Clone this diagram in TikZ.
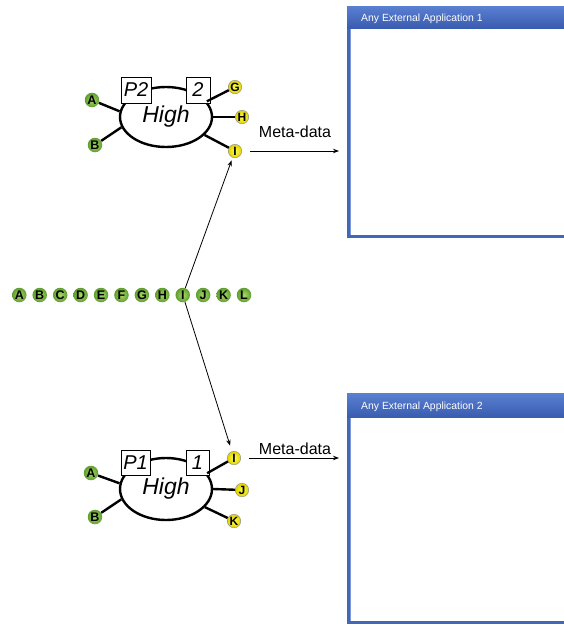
\documentclass[tikz,border=0pt]{standalone}
\usepackage{fontspec}
\setmainfont{Liberation Sans}
\usetikzlibrary{shapes.geometric,arrows.meta}

\definecolor{greenin}{HTML}{A8D86A}
\definecolor{greenout}{HTML}{5F9E2E}
\definecolor{yellowin}{HTML}{FFFF50}
\definecolor{yellowout}{HTML}{E0D000}
\definecolor{frameblue}{HTML}{4466B8}
\definecolor{framelight}{HTML}{7E98D6}
\definecolor{bartop}{HTML}{5A80D2}
\definecolor{barbot}{HTML}{3A5CB0}

\tikzset{
  gball/.style={circle, inner sep=0pt, minimum size=14.5pt,
    inner color=greenin, outer color=greenout,
    font=\fontsize{12.5}{12.5}\selectfont\bfseries},
  yball/.style={circle, inner sep=0pt, minimum size=13.5pt,
    inner color=yellowin, outer color=yellowout, draw=black!45, line width=0.4pt,
    font=\fontsize{12}{12}\selectfont\bfseries},
  hub/.style={ellipse, draw, line width=2.4pt, minimum width=92pt,
    minimum height=60pt, inner sep=0pt,
    font=\fontsize{23}{23}\selectfont\itshape},
  tag/.style={draw, fill=white, line width=1pt, minimum height=26pt,
    inner sep=0pt, font=\fontsize{20}{20}\selectfont\itshape},
  spoke/.style={line width=2.4pt},
  feed/.style={-{Stealth[length=6pt,width=4.5pt]}, line width=0.8pt},
  metalabel/.style={font=\fontsize{16}{16}\selectfont},
  winframe/.style={rectangle, fill=frameblue, inner sep=0pt, anchor=north west},
  wintitle/.style={text=white, font=\fontsize{10.4}{10.4}\selectfont, inner sep=0pt},
}

\begin{document}
\begin{tikzpicture}[x=1pt,y=-1pt]
\useasboundingbox (0,0) rectangle (564,625);
\clip (0,0) rectangle (564,625);

% ---------- application windows ----------
\node[winframe, minimum width=230pt, minimum height=232pt] (w1) at (347,6) {};
\fill[white] (351,28) rectangle (580,235);
\draw[framelight, line width=0.8pt] (350,28) -- (350,235);
\shade[top color=bartop, bottom color=barbot] (347,6) rectangle (580,28);
\node[wintitle, anchor=base west] (t1) at (361,21) {Any External Application 1};

\node[winframe, minimum width=230pt, minimum height=231pt] (w2) at (347,393) {};
\fill[white] (351,417) rectangle (580,621);
\draw[framelight, line width=0.8pt] (350,417) -- (350,621);
\shade[top color=bartop, bottom color=barbot] (347,393) rectangle (580,417);
\node[wintitle, anchor=base west] (t2) at (361,409) {Any External Application 2};

% ---------- upper hub ----------
\node[hub] (e1) at (166,117) {High};
\node[tag, minimum width=30pt] (p2) at (136,90) {P2};
\node[tag, minimum width=24pt] (n2) at (198,90) {2};
\node[gball] (uA) at (92,100) {A};
\node[gball] (uB) at (95,145) {B};
\node[yball] (uG) at (235,87) {G};
\node[yball] (uH) at (242,117) {H};
\node[yball] (uI) at (235,151) {I};
\draw[spoke] (e1.173) -- (uA);
\draw[spoke] (e1.193) -- (uB);
\draw[spoke] (e1.21) -- (uG);
\draw[spoke] (e1.0) -- (uH);
\draw[spoke] (e1.-25) -- (uI);

% ---------- lower hub ----------
\node[hub, minimum height=62pt] (e2) at (166,489) {High};
\node[tag, minimum width=29pt, minimum height=25pt] (p1) at (135.5,462.5) {P1};
\node[tag, minimum width=23pt, minimum height=25pt] (n1) at (197.5,462.5) {1};
\node[gball] (lA) at (91,473) {A};
\node[gball] (lB) at (95,517) {B};
\node[yball] (lI) at (234,458) {I};
\node[yball] (lJ) at (242,490) {J};
\node[yball] (lK) at (234,521) {K};
\draw[spoke] (e2.173) -- (lA);
\draw[spoke] (e2.193) -- (lB);
\draw[spoke] (e2.21) -- (lI);
\draw[spoke] (e2.0) -- (lJ);
\draw[spoke] (e2.-25) -- (lK);

% ---------- row of all items ----------
\foreach \L [count=\i from 0] in {A,B,C,D,E,F,G,H,I,J,K,L}
  \node[gball] (r\L) at ({19.3+20.43*\i},295) {\L};

\draw[feed, shorten >=3pt] (rI) -- (uI);
\draw[feed, shorten >=6pt] (rI) -- (lI);

% ---------- meta-data feeds ----------
\draw[feed, shorten <=8pt, shorten >=8pt] (uI.east) -- (uI.east -| w1.west);
\node[metalabel] (m1) at (295,132) {Meta-data};
\draw[feed, shorten <=8pt, shorten >=8pt] (lI.east) -- (lI.east -| w2.west);
\node[metalabel] (m2) at (295,449) {Meta-data};
\end{tikzpicture}
\end{document}
